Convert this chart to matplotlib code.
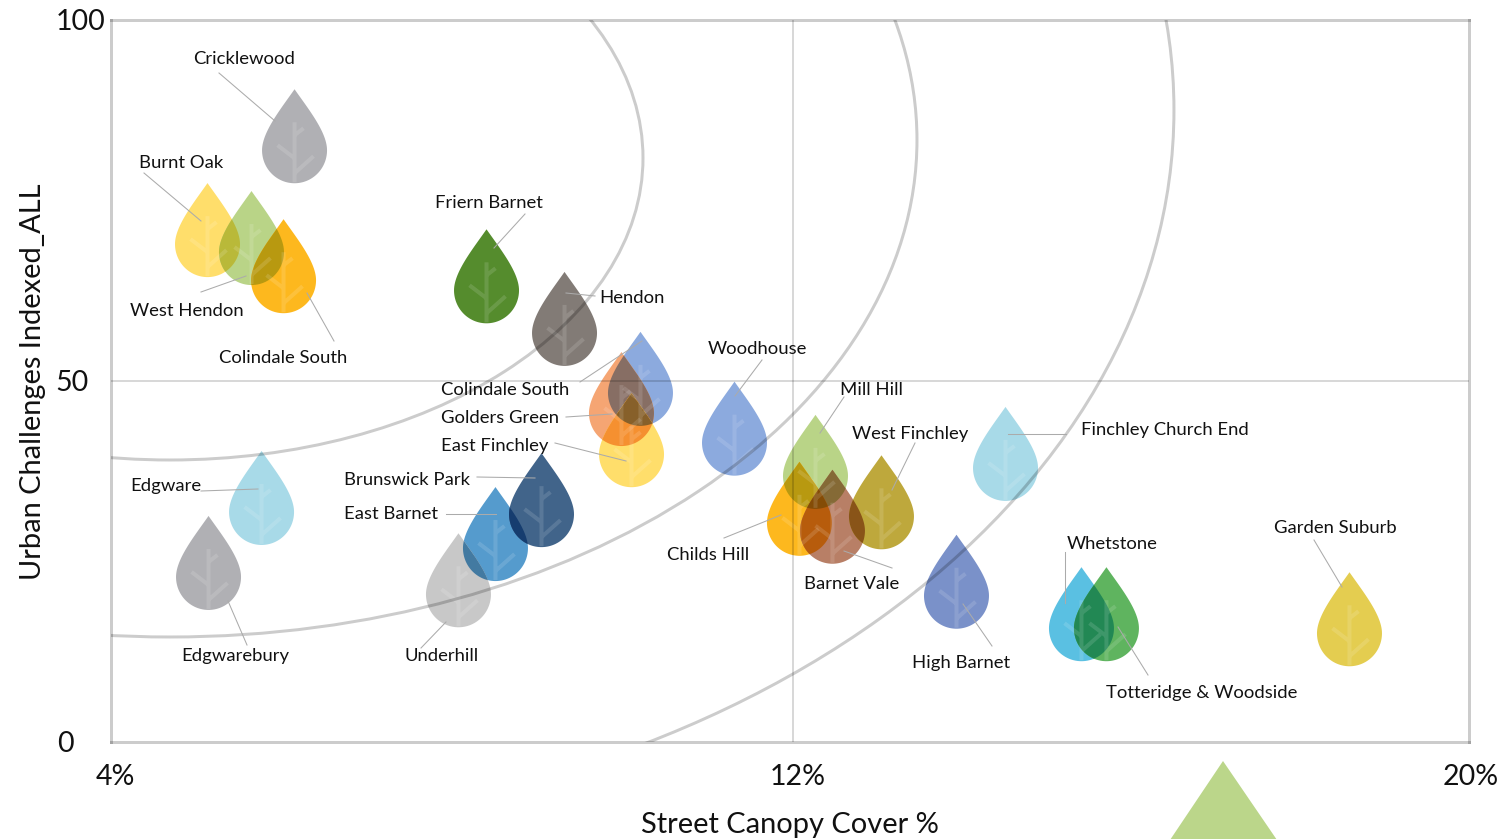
import numpy as np
import matplotlib
matplotlib.use("Agg")
import matplotlib.pyplot as plt
from matplotlib.patches import Polygon, Ellipse, PathPatch
from matplotlib.path import Path
from matplotlib.transforms import IdentityTransform, ScaledTranslation

plt.rcParams['font.family'] = ['Lato', 'DejaVu Sans']

# ---- data -------------------------------------------------------------
wards = ["Cricklewood", "Burnt Oak", "West Hendon", "Colindale South", "Friern Barnet", "Hendon",
         "Colindale South", "Golders Green", "East Finchley", "Woodhouse", "Mill Hill", "Childs Hill",
         "Barnet Vale", "West Finchley", "Finchley Church End", "Edgware", "Edgwarebury",
         "East Barnet", "Brunswick Park", "Underhill", "High Barnet", "Whetstone",
         "Totteridge & Woodside", "Garden Suburb"]
canopy = [6.153, 5.132, 5.648, 6.024, 8.405, 9.320,
          10.211, 9.988, 10.106, 11.314, 12.264, 12.076,
          12.463, 13.038, 14.493, 5.766, 5.144,
          8.510, 9.050, 8.076, 13.918, 15.384,
          15.677, 18.528]
challenges = [83.9, 70.9, 69.8, 65.9, 64.5, 58.6,
              50.3, 47.5, 41.8, 43.4, 38.8, 32.3,
              31.2, 33.2, 39.9, 33.8, 24.8,
              28.8, 33.5, 22.4, 22.2, 17.7,
              17.7, 17.0]
colours = ["#b0b0b4", "#ffde6b", "#b9d487", "#fdb81e", "#558c2d", "#827b76",
           "#8caade", "#f5a573", "#ffde6b", "#8caade", "#b9d487", "#fdb81e",
           "#b87f66", "#bea83c", "#a8dae8", "#a8dae8", "#b0b0b4",
           "#559bcd", "#41648a", "#c8c8c8", "#7a91c9", "#5ac0e2",
           "#5fb45f", "#e4cd50"]

x_ticks = [4, 12, 19.93]
x_tick_labels = ["4%", "12%", "20%"]
y_ticks = [0, 50, 100]
y_tick_labels = ["0", "50", "100"]
x_title = "Street Canopy Cover %"
y_title = "Urban Challenges Indexed_ALL"

# ---- layout (pixel positions on the 1499x839 canvas) ------------------
W, H = 1499, 839
L, R, T, B = 111, 1469, 20, 742
label_pos = [(193, 59), (139, 163), (130, 311), (219, 358), (435, 203), (599, 298),
             (441, 390), (441, 418), (441, 446), (708, 349), (840, 390), (667, 555),
             (804, 584), (852, 434), (1081, 430), (130, 486), (181, 656),
             (344, 514), (344, 480), (405, 656), (912, 663), (1067, 544),
             (1106, 693), (1274, 528)]
leaders = [((219, 73), (275, 121)), ((144, 173), (201, 221)), ((201, 292), (246, 276)), ((307, 293), (334, 341)),
           ((525, 214), (494, 248)), ((595, 296), (566, 293)),
           ((580, 382), (642, 341)), ((566, 417), (612, 414)), ((555, 443), (626, 461)), ((762, 360), (735, 396)),
           ((844, 397), (820, 433)), ((724, 538), (781, 515)),
           ((892, 568), (844, 551)), ((915, 443), (892, 490)), ((1066, 434), (1008, 434)), ((201, 491), (258, 489)),
           ((247, 645), (228, 601)), ((446, 514), (496, 514)), ((477, 477), (535, 478)), ((421, 648), (446, 622)),
           ((992, 646), (963, 604)), ((1065, 552), (1065, 603)), ((1148, 675), (1118, 627)), ((1314, 540), (1342, 587))]

fig = plt.figure(figsize=(W / 100, H / 100), dpi=100, facecolor="white")
ax = fig.add_axes([L / W, 1 - B / H, (R - L) / W, (B - T) / H])
ax.set_xlim(4, 19.93)
ax.set_ylim(0, 100)
ax.set_facecolor("white")
fig.canvas.draw()

LINE = (0, 0, 0, 0.2)      # darkens whatever lies under it, like the multiply look
to_data = ax.transData.inverted()


def px(p):
    return to_data.transform((p[0], H - p[1]))


# ---- drop outline in pixels about its centre --------------------------
def drop_outline():
    t = np.linspace(0, 1, 30)[:, None]
    p0, p1, p2, p3 = map(np.array, [(0, 47), (14, 27), (32.5, 4), (32.5, -14)])
    side = (1 - t) ** 3 * p0 + 3 * (1 - t) ** 2 * t * p1 + 3 * (1 - t) * t ** 2 * p2 + t ** 3 * p3
    a = np.radians(np.linspace(0, -180, 60))[1:-1]
    bottom = np.c_[32.5 * np.cos(a), -14 + 33 * np.sin(a)]
    other = side[::-1] * [-1, 1]
    return np.vstack([side, bottom, other[:-1]])


DROP = drop_outline()
STEM = [((0, 14), (0, -46)), ((0, 1), (9, 8)), ((0, -22), (-17, -9)), ((0, -37), (19, -20))]


def clip_convex(subject, clipper):
    """Sutherland-Hodgman intersection of two convex polygons (clockwise clipper)."""
    out = subject
    for i in range(len(clipper)):
        if len(out) == 0:
            return out
        a, b = clipper[i], clipper[(i + 1) % len(clipper)]
        e = b - a
        side = e[0] * (out[:, 1] - a[1]) - e[1] * (out[:, 0] - a[0])
        keep = []
        n = len(out)
        for j in range(n):
            s0, s1 = side[j], side[(j + 1) % n]
            if s0 <= 0:
                keep.append(out[j])
            if (s0 < 0) != (s1 < 0) and s0 != s1:
                u = s0 / (s0 - s1)
                keep.append(out[j] + u * (out[(j + 1) % n] - out[j]))
        out = np.array(keep) if keep else np.empty((0, 2))
    return out


# multiply blend: every overlap gets the product of the colours
regions = []
for xv, yv, c in zip(canopy, challenges, colours):
    centre = ax.transData.transform((xv, yv))
    poly = DROP + centre
    col = np.array(matplotlib.colors.to_rgb(c))
    new = [(poly, col)]
    for rp, rc in regions:
        inter = clip_convex(rp, poly)
        if len(inter) > 2:
            new.append((inter, rc * col))
    regions.extend(new)

for rp, rc in regions:
    ax.add_patch(Polygon(to_data.transform(rp), closed=True, facecolor=rc, edgecolor="none", zorder=2))

# tree veins inside each drop
for xv, yv in zip(canopy, challenges):
    centre = ax.transData.transform((xv, yv))
    verts, codes = [], []
    for a, b in STEM:
        verts += [to_data.transform(centre + a), to_data.transform(centre + b)]
        codes += [Path.MOVETO, Path.LINETO]
    ax.add_patch(PathPatch(Path(verts, codes), fill=False, edgecolor=(1, 1, 1, 0.13), lw=2.9,
                           capstyle="butt", joinstyle="round", zorder=2.2))

# quadrant lines and concentric arcs
ax.axvline(12, color=LINE, lw=1.1, zorder=3)
ax.axhline(50, color=LINE, lw=1.1, zorder=3)
for cx, cy, w, h in [(4.692, 80.89, 11.097, 83.66), (4.692, 83.38, 17.525, 137.67), (4.692, 87.53, 23.554, 199.2)]:
    ax.add_patch(Ellipse((cx, cy), w, h, fill=False, edgecolor=LINE, lw=2.16, zorder=3))

for s in ax.spines.values():
    s.set_edgecolor(LINE)
    s.set_linewidth(2.16)
    s.set_zorder(3)

# leader lines and labels
for (a, b) in leaders:
    p, q = px(a), px(b)
    ax.plot([p[0], q[0]], [p[1], q[1]], color="#ababab", lw=0.75, zorder=4, clip_on=False)
for name, pos in zip(wards, label_pos):
    p = px(pos)
    ax.text(p[0], p[1], name, ha="left", va="center", fontsize=13.3, color="#111111", zorder=5, clip_on=False)

# ticks
ax.set_xticks(x_ticks, x_tick_labels, fontsize=20.5, color="#111111")
ax.set_yticks(y_ticks, y_tick_labels, fontsize=20.5, color="#111111")
ax.tick_params(length=0, pad=0)
for i, lab in enumerate(ax.get_xticklabels()):
    xc = [115, 798, 1471][i]
    lab.set_ha("center")
    lab.set_va("center")
    tick_px = ax.transData.transform((x_ticks[i], 0))[0]
    lab.set_transform(lab.get_transform() + ScaledTranslation((xc - tick_px) / 100, -35 / 100, fig.dpi_scale_trans))
for i, lab in enumerate(ax.get_yticklabels()):
    right = [74, 89, 105][i]
    lab.set_ha("right")
    lab.set_va("center")
    lab.set_transform(lab.get_transform() + ScaledTranslation((right - L) / 100, -2 / 100, fig.dpi_scale_trans))

fig.text(790 / W, 1 - 825 / H, x_title, ha="center", va="center", fontsize=20.9, color="#111111")
fig.text(33 / W, 1 - 382 / H, y_title, ha="center", va="center", rotation=90, fontsize=20.9, color="#111111")

# stray triangle cut by the bottom edge
fig.add_artist(Polygon([(1223, H - 761), (1170, H - 839 - 1), (1277, H - 839 - 1)], closed=True,
                       facecolor="#bbd68a", edgecolor="none", transform=IdentityTransform(), clip_on=False))

fig.savefig("out.png", dpi=100)
